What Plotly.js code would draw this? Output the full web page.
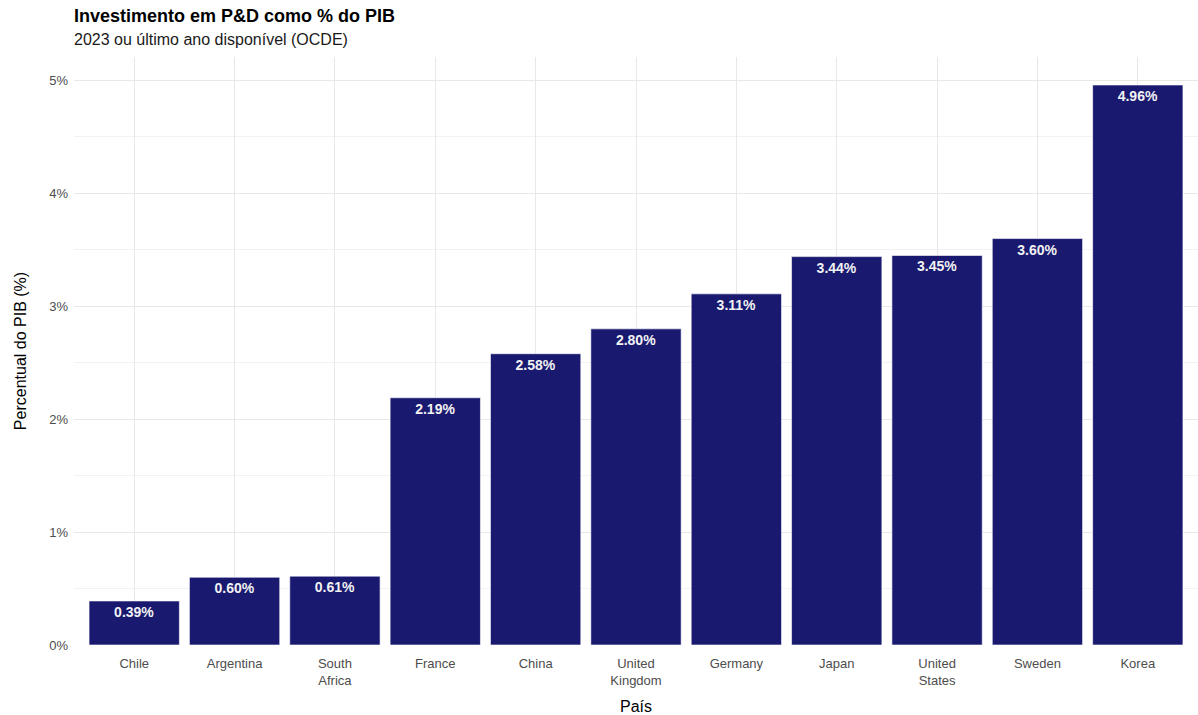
<!DOCTYPE html>
<html>
<head>
<meta charset="utf-8">
<script src="https://cdn.plot.ly/plotly-3.0.1.min.js"></script>
<style>html,body{margin:0;padding:0;background:#fff;}#chart{width:1198px;height:715px;}</style>
</head>
<body>
<div id="chart"></div>
<script>
const countries = ["Chile", "Argentina", "South Africa", "France", "China", "United Kingdom", "Germany", "Japan", "United States", "Sweden", "Korea"];
const tickLabels = ["Chile", "Argentina", "South<br>Africa", "France", "China", "United<br>Kingdom", "Germany", "Japan", "United<br>States", "Sweden", "Korea"];
const rdShare = [0.39, 0.60, 0.61, 2.19, 2.58, 2.80, 3.11, 3.44, 3.45, 3.60, 4.96];
const yTickVals = [0, 1, 2, 3, 4, 5];
const yTickText = ["0%", "1%", "2%", "3%", "4%", "5%"];
const titleText = "Investimento em P&D como % do PIB";
const subtitleText = "2023 ou último ano disponível (OCDE)";

const FONT = "Liberation Sans, Arial, Helvetica, sans-serif";

const trace = {
  type: "bar",
  x: countries,
  y: rdShare,
  width: 0.9,
  marker: {color: "#191970", line: {color: "#ffffff", width: 0.6}},
  texttemplate: "%{y:.2f}%",
  textposition: "inside",
  insidetextanchor: "end",
  textangle: 0,
  constraintext: "none",
  textfont: {family: FONT, size: 14, color: "#f2f2f2", weight: "bold"},
  hoverinfo: "skip"
};

const layout = {
  width: 1198,
  height: 715,
  margin: {l: 74, r: 0, t: 57, b: 70, pad: 0},
  paper_bgcolor: "#ffffff",
  plot_bgcolor: "#ffffff",
  showlegend: false,
  font: {family: FONT, color: "#000000"},
  title: {
    text: "<b>" + titleText + "</b><br><span style='font-size:16px;color:#1a1a1a'>" + subtitleText + "</span>",
    font: {family: FONT, size: 18, color: "#000000"},
    x: 0, xref: "paper", xanchor: "left",
    y: 1 - 22 / 715, yref: "container", yanchor: "top"
  },
  xaxis: {
    type: "category",
    categoryorder: "array",
    categoryarray: countries,
    tickvals: countries,
    ticktext: tickLabels,
    range: [-0.6, 10.6],
    showgrid: true,
    gridcolor: "#e8e8e8",
    gridwidth: 1,
    zeroline: false,
    showline: false,
    ticks: "",
    ticklabelstandoff: 9,
    tickfont: {family: FONT, size: 13, color: "#4d4d4d"},
    title: {text: "País", font: {family: FONT, size: 16, color: "#000000"}, standoff: 22},
    fixedrange: true
  },
  yaxis: {
    range: [0, 5.208],
    tickvals: yTickVals,
    ticktext: yTickText,
    showgrid: true,
    gridcolor: "#e8e8e8",
    gridwidth: 1,
    minor: {tick0: 0, dtick: 0.5, showgrid: true, gridcolor: "#efefef", gridwidth: 0.8},
    zeroline: false,
    showline: false,
    ticks: "",
    ticklabelstandoff: 5,
    tickfont: {family: FONT, size: 13, color: "#4d4d4d"},
    title: {text: "Percentual do PIB (%)", font: {family: FONT, size: 16, color: "#000000"}, standoff: 18},
    fixedrange: true
  },
  bargap: 0.1
};

Plotly.newPlot("chart", [trace], layout, {displayModeBar: false, staticPlot: true});
</script>
</body>
</html>
